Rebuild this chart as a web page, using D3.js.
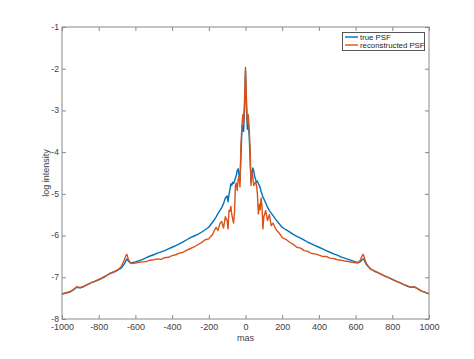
<!DOCTYPE html>
<html><head><meta charset="utf-8">
<script src="https://cdn.jsdelivr.net/npm/d3@7"></script>
<style>body{margin:0;background:#fff}svg{display:block}</style>
</head><body>
<svg id="c" width="474" height="359"></svg>
<script>
const mas = [-1000,-980,-960,-940,-920,-900,-880,-860,-840,-820,-800,-780,-760,-740,-720,-700,-690,-680,-670,-660,-652,-646,-640,-632,-624,-616,-608,-600,-580,-560,-540,-520,-500,-480,-460,-440,-420,-400,-380,-360,-340,-320,-300,-280,-260,-240,-220,-200,
-190,-180,-170,-160,-150,-140,-130,-120,-110,-100,-95,-90,-85,-80,-75,-70,-65,-60,-55,-50,-45,-40,-35,-30,-25,-20,-15,-10,-5,0,5,10,15,20,25,30,35,40,45,50,55,60,65,70,75,80,85,90,95,100,110,120,130,140,150,160,170,180,190,
200,220,240,260,280,300,320,340,360,380,400,420,440,460,480,500,520,540,560,580,600,608,616,624,632,640,646,652,660,670,680,690,700,720,740,760,780,800,820,840,860,880,900,920,940,960,980,1000];

const truePSF = [-7.40,-7.38,-7.36,-7.31,-7.24,-7.25,-7.22,-7.17,-7.13,-7.10,-7.06,-7.02,-6.97,-6.91,-6.88,-6.84,-6.81,-6.79,-6.74,-6.68,-6.60,-6.56,-6.60,-6.64,-6.66,-6.65,-6.64,-6.63,-6.60,-6.57,-6.53,-6.49,-6.46,-6.42,-6.39,-6.36,-6.32,-6.28,-6.24,-6.20,-6.15,-6.10,-6.05,-6.01,-5.97,-5.92,-5.86,-5.80,
-5.74,-5.68,-5.62,-5.55,-5.47,-5.40,-5.33,-5.24,-5.10,-5.05,-5.19,-5.02,-4.90,-4.76,-4.80,-4.72,-4.75,-4.70,-4.62,-4.56,-4.44,-4.40,-4.55,-4.70,-4.10,-3.55,-3.35,-3.50,-2.90,-2.05,-2.90,-3.45,-3.30,-3.60,-4.15,-4.72,-4.55,-4.38,-4.45,-4.58,-4.65,-4.72,-4.70,-4.75,-4.80,-4.85,-4.95,-5.00,-5.08,-5.12,-5.22,-5.32,-5.40,-5.46,-5.52,-5.58,-5.64,-5.70,-5.75,
-5.80,-5.86,-5.91,-5.97,-6.02,-6.06,-6.11,-6.16,-6.20,-6.24,-6.28,-6.32,-6.36,-6.40,-6.44,-6.47,-6.51,-6.54,-6.57,-6.60,-6.63,-6.64,-6.65,-6.63,-6.60,-6.56,-6.58,-6.64,-6.70,-6.75,-6.80,-6.82,-6.85,-6.89,-6.93,-6.97,-7.01,-7.05,-7.09,-7.13,-7.17,-7.21,-7.24,-7.23,-7.28,-7.33,-7.36,-7.40];

const reconPSF = [-7.40,-7.37,-7.35,-7.30,-7.23,-7.25,-7.21,-7.17,-7.13,-7.09,-7.05,-7.01,-6.96,-6.92,-6.87,-6.83,-6.80,-6.76,-6.68,-6.58,-6.48,-6.45,-6.55,-6.62,-6.66,-6.67,-6.66,-6.66,-6.64,-6.63,-6.62,-6.59,-6.58,-6.56,-6.57,-6.53,-6.52,-6.48,-6.46,-6.42,-6.40,-6.35,-6.31,-6.27,-6.22,-6.17,-6.10,-6.08,
-6.02,-5.98,-5.88,-5.80,-5.88,-5.72,-5.66,-5.82,-5.55,-5.64,-5.84,-5.40,-5.42,-5.30,-5.48,-5.60,-5.70,-5.45,-4.80,-4.74,-4.92,-4.65,-4.58,-4.83,-3.85,-3.40,-3.10,-3.30,-2.70,-1.97,-2.70,-3.30,-3.10,-3.45,-3.90,-4.80,-4.45,-4.60,-4.80,-4.75,-4.72,-4.80,-5.00,-5.48,-5.25,-5.38,-5.10,-5.30,-5.84,-5.55,-5.40,-5.64,-5.50,-5.76,-5.70,-5.80,-5.88,-5.92,-5.98,
-6.05,-6.09,-6.16,-6.21,-6.28,-6.30,-6.36,-6.38,-6.43,-6.44,-6.47,-6.50,-6.50,-6.54,-6.55,-6.58,-6.59,-6.61,-6.62,-6.64,-6.65,-6.66,-6.64,-6.60,-6.52,-6.45,-6.50,-6.60,-6.68,-6.74,-6.79,-6.82,-6.84,-6.88,-6.93,-6.97,-7.01,-7.05,-7.09,-7.13,-7.17,-7.20,-7.24,-7.23,-7.28,-7.33,-7.36,-7.40];

const xTicks = [-1000,-800,-600,-400,-200,0,200,400,600,800,1000];
const yTicks = [-8,-7,-6,-5,-4,-3,-2,-1];
const seriesNames = ["true PSF","reconstructed PSF"];
const seriesColors = ["#0072BD","#D95319"];
const xLabel = "mas", yLabel = "log intensity";

const svg = d3.select("#c");
const L = 62, R = 429, T = 27, B = 319;
const x = d3.scaleLinear().domain([-1000,1000]).range([L,R]);
const y = d3.scaleLinear().domain([-8,-1]).range([B,T]);
const axisCol = "#8a8a8a", textCol = "#404040", font = "Liberation Sans, Arial, sans-serif";
const fmt = d => String(d);

const series = [truePSF, reconPSF];
const line = d3.line().x((d,i)=>x(mas[i])).y(d=>y(d));
const plot = svg.append("g");
series.forEach((s,k)=>{
  plot.append("path").datum(s).attr("d", line).attr("fill","none")
    .attr("stroke", seriesColors[k]).attr("stroke-width",1.4).attr("stroke-linejoin","round");
});

function styleAxis(g, fs){
  g.selectAll("path.domain").remove();
  g.selectAll("line").attr("stroke", axisCol);
  g.selectAll("text").attr("fill", textCol).attr("font-family", font).attr("font-size", fs);
}
const tl = 4;
svg.append("g").attr("transform",`translate(0,${B})`)
  .call(d3.axisBottom(x).tickValues(xTicks).tickSize(-tl).tickPadding(5).tickFormat(fmt))
  .call(g => styleAxis(g, 9));
svg.append("g").attr("transform",`translate(0,${T})`)
  .call(d3.axisTop(x).tickValues(xTicks).tickSize(-tl).tickFormat(""))
  .call(g => styleAxis(g, 9));
svg.append("g").attr("transform",`translate(${L},0)`)
  .call(d3.axisLeft(y).tickValues(yTicks).tickSize(-tl).tickPadding(3).tickFormat(fmt))
  .call(g => styleAxis(g, 8.6))
  .call(g => g.selectAll("text").attr("dy", "0.28em"));
svg.append("g").attr("transform",`translate(${R},0)`)
  .call(d3.axisRight(y).tickValues(yTicks).tickSize(-tl).tickFormat(""))
  .call(g => styleAxis(g, 9));

svg.append("rect").attr("x",L).attr("y",T).attr("width",R-L).attr("height",B-T)
  .attr("fill","none").attr("stroke",axisCol).attr("stroke-width",1);

svg.append("text").attr("x",(L+R)/2).attr("y",341).attr("text-anchor","middle")
  .attr("fill",textCol).attr("font-family",font).attr("font-size",9).text(xLabel);
svg.append("text").attr("transform",`translate(49,${(T+B)/2}) rotate(-90)`).attr("text-anchor","middle")
  .attr("fill",textCol).attr("font-family",font).attr("font-size",9).text(yLabel);

const lg = svg.append("g");
lg.append("rect").attr("x",342.5).attr("y",32.5).attr("width",82).attr("height",18)
  .attr("fill","#fff").attr("stroke","#555").attr("stroke-width",1);
seriesNames.forEach((n,k)=>{
  const yy = 37 + k*8;
  lg.append("line").attr("x1",345).attr("x2",358).attr("y1",yy).attr("y2",yy)
    .attr("stroke",seriesColors[k]).attr("stroke-width",1.4);
  lg.append("text").attr("x",360).attr("y",yy+2.8).attr("fill","#262626")
    .attr("font-family",font).attr("font-size",7.8).text(n);
});
</script>
</body></html>
